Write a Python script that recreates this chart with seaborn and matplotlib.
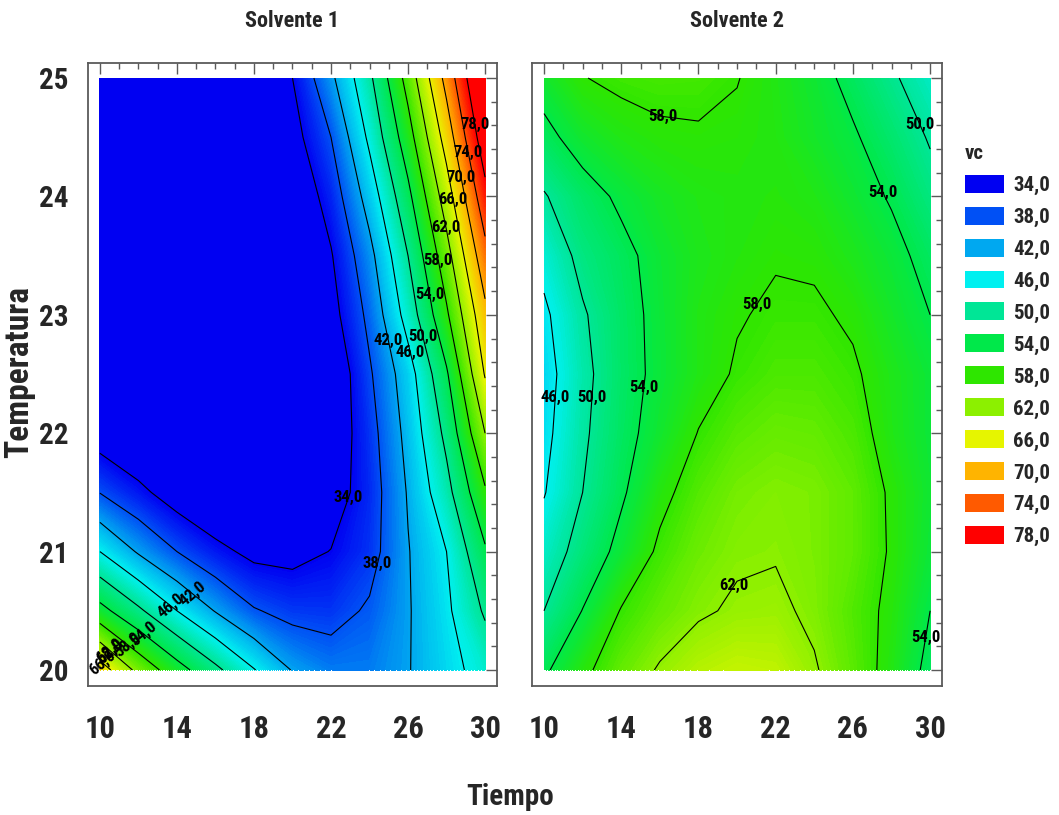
"""Contour maps of vc against Tiempo and Temperatura for the two solvents."""
import matplotlib

matplotlib.use("Agg")
import matplotlib.pyplot as plt
import numpy as np
import seaborn as sns
from matplotlib.patches import Patch
from matplotlib.ticker import MultipleLocator

# grid (columns = Tiempo, rows = Temperatura)
TIEMPO = [10, 12, 14, 16, 18, 20, 22, 24, 26, 28, 30]
TEMPERATURA = [20.0, 20.5, 21.0, 21.5, 22.0, 22.5, 23.0, 23.5, 24.0, 24.5, 25.0]

VC_SOLVENTE_1 = [
    [68.0, 60.9, 55.6, 50.9, 46.2, 41.8, 40.0, 40.0, 41.8, 44.7, 47.5],
    [55.3, 50.7, 46.0, 41.8, 38.3, 36.8, 36.6, 38.5, 41.7, 45.3, 50.5],
    [46.0, 41.6, 38.0, 35.1, 33.0, 32.8, 34.1, 36.5, 41.8, 46.0, 53.5],
    [37.9, 35.0, 32.0, 30.0, 29.5, 30.0, 32.0, 36.0, 42.3, 48.7, 57.5],
    [32.0, 30.0, 28.0, 27.0, 26.5, 27.5, 31.0, 36.5, 43.2, 51.0, 62.0],
    [28.5, 26.5, 25.5, 25.0, 25.5, 27.0, 30.5, 37.5, 44.2, 53.5, 66.3],
    [25.5, 24.0, 23.5, 23.5, 24.5, 27.0, 32.5, 39.0, 47.6, 57.4, 69.0],
    [25.0, 24.0, 23.5, 24.0, 25.5, 28.5, 33.7, 40.8, 50.0, 60.5, 72.7],
    [26.5, 25.5, 25.0, 26.0, 28.0, 30.5, 35.7, 43.7, 53.0, 64.0, 76.7],
    [28.0, 27.5, 27.5, 28.5, 30.5, 32.5, 38.0, 46.8, 56.3, 67.7, 80.7],
    [30.0, 29.5, 29.5, 30.5, 32.5, 34.0, 41.2, 49.2, 59.5, 71.3, 84.0],
]

VC_SOLVENTE_2 = [
    [53.4, 57.2, 60.2, 62.3, 63.8, 64.5, 64.2, 62.3, 59.8, 56.9, 53.0],
    [50.0, 54.1, 58.2, 60.2, 61.6, 62.4, 62.6, 61.4, 59.4, 57.3, 54.0],
    [47.8, 51.5, 55.1, 58.6, 60.6, 61.6, 61.8, 61.2, 60.0, 57.7, 55.0],
    [45.8, 50.0, 53.5, 57.1, 59.5, 61.0, 61.5, 61.2, 60.0, 57.6, 55.3],
    [45.0, 49.4, 52.8, 55.5, 58.1, 59.7, 60.4, 60.2, 59.2, 56.8, 55.0],
    [44.5, 49.0, 52.5, 54.9, 56.8, 58.3, 59.2, 59.2, 58.4, 56.6, 55.0],
    [45.3, 49.6, 52.6, 55.0, 56.8, 57.8, 58.4, 58.4, 57.6, 55.8, 54.0],
    [47.2, 51.1, 53.1, 55.2, 56.5, 57.2, 57.8, 57.6, 56.5, 55.0, 52.9],
    [49.7, 52.6, 54.6, 56.0, 56.8, 57.1, 57.3, 56.8, 55.4, 53.7, 51.2],
    [53.0, 55.5, 56.8, 57.5, 57.7, 57.5, 57.0, 55.8, 54.4, 52.2, 49.7],
    [55.5, 57.9, 58.6, 58.9, 58.8, 58.1, 56.8, 55.3, 53.0, 50.5, 48.0],
]

VC_LEVELS = [34, 38, 42, 46, 50, 54, 58, 62, 66, 70, 74, 78]
VC_COLORS = [
    "#0000f2", "#0050f5", "#00a8f0", "#00f0f0", "#00e696", "#00e84a",
    "#2ee600", "#8cf000", "#e6f500", "#ffb400", "#ff5a00", "#ff0000",
]

PANEL_TITLES = ["Solvente 1", "Solvente 2"]
X_TICKS = [10, 14, 18, 22, 26, 30]
Y_TICKS = [20, 21, 22, 23, 24, 25]

# where the contour values are written (snapped to the nearest line)
LABEL_SPOTS_1 = [
    (29.45, 24.61), (29.1, 24.37), (28.8, 24.16), (28.35, 23.97), (28.0, 23.74),
    (27.6, 23.46), (27.35, 23.18), (27.0, 22.83), (26.3, 22.69), (25.0, 22.78),
    (23.0, 21.45), (24.6, 20.89),
    (14.5, 20.57), (13.4, 20.48), (12.4, 20.34), (11.6, 20.25), (10.8, 20.20),
    (10.3, 20.12), (10.05, 20.05),
]
LABEL_SPOTS_2 = [
    (16.2, 24.72), (29.4, 24.60), (27.6, 24.04), (20.9, 23.10), (10.6, 22.30),
    (12.7, 22.30), (15.3, 22.38), (20.05, 20.69), (29.6, 20.28),
]

sns.set_style("white")
plt.rcParams["font.family"] = ["Roboto Condensed", "Liberation Sans Narrow", "DejaVu Sans"]
plt.rcParams["font.stretch"] = "condensed"
plt.rcParams["font.weight"] = "bold"

cmap = sns.blend_palette(VC_COLORS, as_cmap=True)
cmap.set_under(VC_COLORS[0])
cmap.set_over(VC_COLORS[-1])
fill_levels = np.linspace(VC_LEVELS[0], VC_LEVELS[-1], 177)
FRAME = "#5a5a5a"


def fmt_vc(v):
    return f"{v:.1f}".replace(".", ",")


def draw_panel(ax, values, title, spots, slanted_below=None):
    X, Y = np.meshgrid(TIEMPO, TEMPERATURA)
    Z = np.array(values)
    ax.contourf(X, Y, Z, levels=fill_levels, cmap=cmap, extend="both",
                antialiased=False)
    cs = ax.contour(X, Y, Z, levels=VC_LEVELS, colors="black", linewidths=0.8)
    texts = ax.clabel(cs, fmt=fmt_vc, manual=spots, inline=False,
                      fontsize=12, colors="black")
    for t in texts:
        t.set_fontweight("bold")
        x, y = t.get_position()
        if slanted_below is not None and y < slanted_below and x < 20:
            t.set_rotation(40)
        else:
            t.set_rotation(0)

    ax.set_xlim(9.38, 30.62)
    ax.set_ylim(19.865, 25.127)
    ax.set_xticks(X_TICKS)
    ax.set_yticks(Y_TICKS)
    ax.xaxis.set_minor_locator(MultipleLocator(1))
    ax.yaxis.set_minor_locator(MultipleLocator(0.2))
    ax.tick_params(which="both", direction="in", top=True, right=True,
                   color=FRAME, width=1)
    ax.tick_params(which="major", length=8, labelsize=21)
    ax.tick_params(which="minor", length=4)
    ax.tick_params(axis="x", labelsize=22, pad=20)
    ax.tick_params(axis="y", pad=14)
    for sp in ax.spines.values():
        sp.set_color(FRAME)
        sp.set_linewidth(1.3)
    ax.set_title(title, fontsize=16, fontweight="bold", pad=26)


fig = plt.figure(figsize=(10.59, 8.15), dpi=100)
ax1 = fig.add_axes([0.0831, 0.1583, 0.3862, 0.7644])
ax2 = fig.add_axes([0.5024, 0.1583, 0.3872, 0.7644])

draw_panel(ax1, VC_SOLVENTE_1, PANEL_TITLES[0], LABEL_SPOTS_1, slanted_below=20.7)
draw_panel(ax2, VC_SOLVENTE_2, PANEL_TITLES[1], LABEL_SPOTS_2)
ax2.tick_params(labelleft=False)

fig.text(0.0180, 0.5436, "Temperatura", rotation=90, ha="center", va="center",
         fontsize=24, fontweight="bold")
fig.text(0.4816, 0.0221, "Tiempo", ha="center", va="center",
         fontsize=21, fontweight="bold")

handles = [Patch(facecolor=c, edgecolor="none") for c in VC_COLORS]
fig.legend(handles, [fmt_vc(v) for v in VC_LEVELS], title="vc",
           loc="upper left", bbox_to_anchor=(965 / 1059, 1 - 144 / 815),
           frameon=False, fontsize=15,
           title_fontproperties={"weight": "bold", "size": 15},
           handlelength=1.85, handleheight=0.95, labelspacing=0.56,
           handletextpad=0.45, borderpad=0, borderaxespad=0, alignment="left")

fig.savefig("out.png", dpi=100)
